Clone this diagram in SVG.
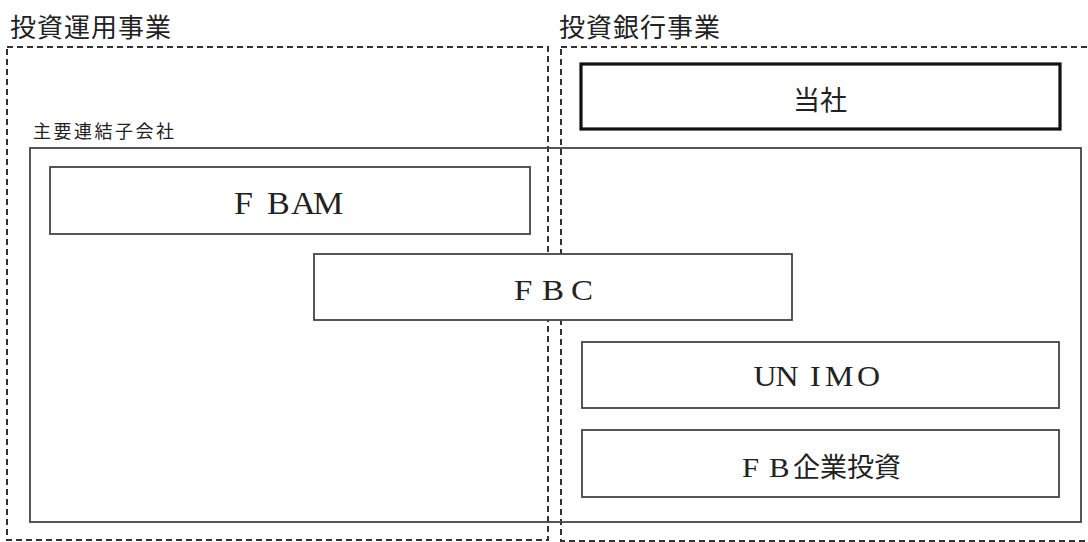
<svg xmlns="http://www.w3.org/2000/svg" width="1088" height="542" viewBox="0 0 1088 542">
<style>
.bg{fill:#ffffff}
.dash{fill:none;stroke:#333;stroke-width:2;stroke-dasharray:6 4}
.frame{fill:none;stroke:#444;stroke-width:1.8}
.box{fill:#ffffff;stroke:#444;stroke-width:1.8}
.main{fill:#ffffff;stroke:#111;stroke-width:3.2}
.cjk{font-family:"Noto Sans CJK JP","Noto Sans CJK SC",sans-serif;fill:#222}
.lat{font-family:"Liberation Serif","Noto Sans CJK JP",serif;fill:#222}
</style>
<rect class="bg" x="0" y="0" width="1088" height="542"/>
<g id="region-asset-management">
<rect class="dash" x="7" y="47" width="541" height="493"/>
<text class="cjk" x="10" y="37" font-size="26" letter-spacing="1">投資運用事業</text>
</g>
<g id="region-investment-banking">
<rect class="dash" x="561" y="47" width="560" height="494"/>
<text class="cjk" x="559" y="37" font-size="26" letter-spacing="1">投資銀行事業</text>
</g>
<g id="group-subsidiaries">
<rect class="frame" x="30" y="148" width="1051" height="374"/>
<text class="cjk" x="33" y="138" font-size="18" letter-spacing="2.5">主要連結子会社</text>
</g>
<g id="node-tosha">
<rect class="main" x="581" y="64" width="479" height="65"/>
<text class="cjk" x="820" y="110" font-size="27" text-anchor="middle">当社</text>
</g>
<g id="node-fbam">
<rect class="box" x="50" y="167" width="480" height="67"/>
<text class="lat" transform="scale(1.1,1)" x="212.7 242.7 264.5 284.5" y="214" font-size="31">FBAM</text>
</g>
<g id="node-fbc">
<rect class="box" x="314" y="254" width="478" height="66"/>
<text class="lat" transform="scale(1.1,1)" x="467.3 492.7 519.1" y="300" font-size="30">FBC</text>
</g>
<g id="node-unimo">
<rect class="box" x="582" y="342" width="477" height="66"/>
<text class="lat" transform="scale(1.1,1)" x="685 705 736.4 750 779.1" y="386" font-size="29">UNIMO</text>
</g>
<g id="node-fb-kigyo">
<rect class="box" x="582" y="430" width="477" height="67"/>
<text class="lat" transform="scale(1.1,1)" x="674.5 699.1" y="477" font-size="28">FB</text>
<text class="cjk" x="793" y="477" font-size="27">企業投資</text>
</g>
<g id="connectors"></g>
</svg>
